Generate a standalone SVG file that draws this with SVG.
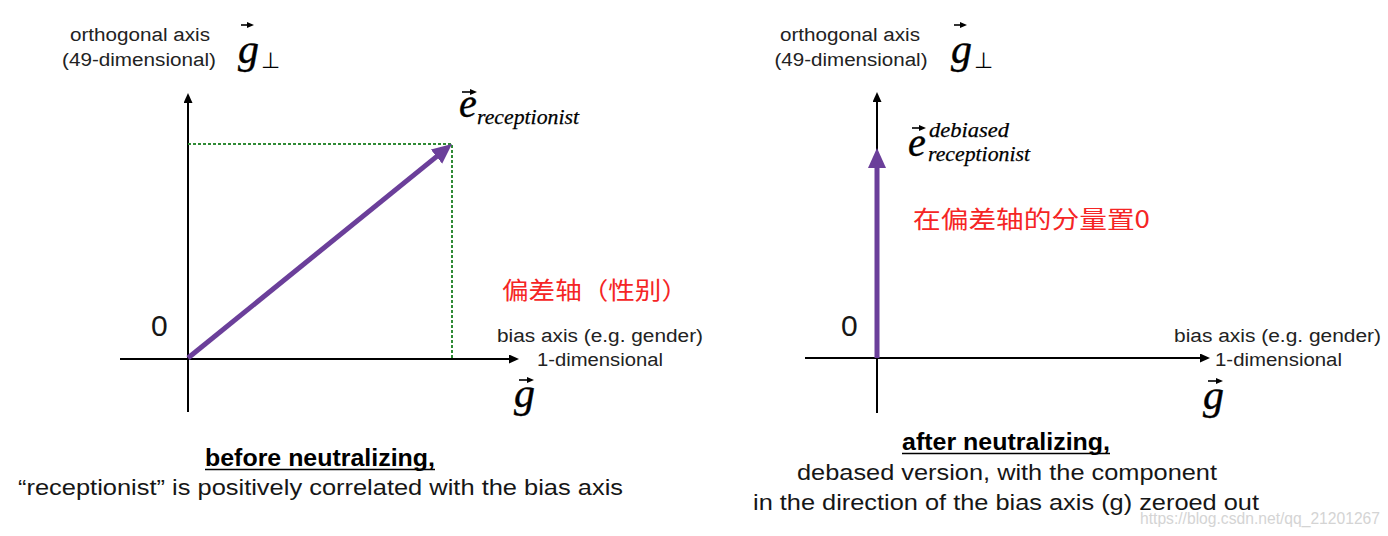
<svg xmlns="http://www.w3.org/2000/svg" width="1388" height="536" viewBox="0 0 1388 536">
<style>
.lbl{font-family:"Liberation Sans",Arial,sans-serif;font-size:18px;fill:#222}
.body{font-family:"Liberation Sans",Arial,sans-serif;font-size:22px;fill:#161616}
.bold{font-family:"Liberation Sans",Arial,sans-serif;font-size:23px;font-weight:bold;fill:#000}
.zero{font-family:"Liberation Sans",Arial,sans-serif;font-size:30px;fill:#161616}
.math{font-family:"Liberation Serif","Times New Roman",serif;font-style:italic;fill:#000;stroke:#000;stroke-width:0.4}
.sub{font-family:"Liberation Serif","Times New Roman",serif;font-style:italic;fill:#000;stroke:#000;stroke-width:0.25}
.perp{font-family:"DejaVu Sans",sans-serif;font-size:22px;fill:#000}
.red{font-family:"Noto Sans CJK SC",sans-serif;font-size:24px;fill:#f52525}
.wm{font-family:"Liberation Sans",Arial,sans-serif;font-size:16px;fill:#d4d4d4}
.axis{stroke:#000;stroke-width:2;fill:none}
.vec{stroke:#6b3f9a;stroke-width:5;fill:none}
.dot{stroke:#2f8a35;stroke-width:2;stroke-dasharray:3 2;fill:none}
.va{stroke:#000;stroke-width:1.6;fill:none}
.ul{stroke:#000;stroke-width:1.6}
</style>
<defs>
<marker id="ah" markerUnits="userSpaceOnUse" markerWidth="12" markerHeight="10" refX="7" refY="4.5" orient="auto">
<path d="M0,0 L10,4.5 L0,9 z" fill="#000"/>
</marker>
<marker id="ph" markerUnits="userSpaceOnUse" markerWidth="22" markerHeight="20" refX="8" refY="9" orient="auto">
<path d="M0,0 L20,9 L0,18 z" fill="#6b3f9a"/>
</marker>
<marker id="sh" markerUnits="userSpaceOnUse" markerWidth="9" markerHeight="7" refX="4" refY="3" orient="auto">
<path d="M0,0 L7,3 L0,6 z" fill="#000"/>
</marker>
</defs>

<g id="connectors">
<line id="left-vertical-axis" class="axis" x1="188" y1="412" x2="188" y2="96" marker-end="url(#ah)"/>
<line id="left-horizontal-axis" class="axis" x1="120" y1="359" x2="516" y2="359" marker-end="url(#ah)"/>
<polyline id="left-projection" class="dot" points="188,144 452,144 452,359"/>
<line id="left-vector" class="vec" x1="188" y1="358" x2="442.7" y2="151.6" marker-end="url(#ph)"/>
<line id="right-vertical-axis" class="axis" x1="877" y1="413" x2="877" y2="95" marker-end="url(#ah)"/>
<line id="right-horizontal-axis" class="axis" x1="805" y1="358" x2="1207" y2="358" marker-end="url(#ah)"/>
<line id="right-vector" class="vec" x1="877" y1="358" x2="877" y2="160" marker-end="url(#ph)"/>
</g>

<g id="left-orthogonal-label">
<text class="lbl" x="140" y="41" text-anchor="middle" textLength="140" lengthAdjust="spacingAndGlyphs">orthogonal axis</text>
<text class="lbl" x="139" y="66" text-anchor="middle" textLength="154" lengthAdjust="spacingAndGlyphs">(49-dimensional)</text>
<line class="va" x1="241" y1="25" x2="251" y2="25" marker-end="url(#sh)"/>
<text class="math" x="238" y="63" font-size="42">g</text>
<text class="perp" x="261" y="68">⊥</text>
</g>

<g id="left-e-receptionist">
<line class="va" x1="462" y1="92" x2="474" y2="92" marker-end="url(#sh)"/>
<text class="math" x="459" y="117" font-size="40">e</text>
<text class="sub" x="477" y="124" font-size="22" textLength="102" lengthAdjust="spacingAndGlyphs">receptionist</text>
</g>

<g id="left-red-label">
<text class="red" x="502" y="299" textLength="186" lengthAdjust="spacingAndGlyphs">偏差轴（性别）</text>
</g>

<g id="left-bias-label">
<text class="lbl" x="497" y="342" textLength="206" lengthAdjust="spacingAndGlyphs">bias axis (e.g. gender)</text>
<text class="lbl" x="537" y="366" textLength="126" lengthAdjust="spacingAndGlyphs">1-dimensional</text>
<line class="va" x1="519" y1="380" x2="531" y2="380" marker-end="url(#sh)"/>
<text class="math" x="514" y="407" font-size="42">g</text>
</g>

<g id="left-origin">
<text class="zero" x="151" y="336">0</text>
</g>

<g id="left-caption">
<text class="bold" x="320" y="466" text-anchor="middle" textLength="230" lengthAdjust="spacingAndGlyphs">before neutralizing,</text>
<line class="ul" x1="205" y1="469.5" x2="435" y2="469.5"/>
<text class="body" x="18" y="495" textLength="605" lengthAdjust="spacingAndGlyphs">“receptionist” is positively correlated with the bias axis</text>
</g>

<g id="right-orthogonal-label">
<text class="lbl" x="850" y="41" text-anchor="middle" textLength="140" lengthAdjust="spacingAndGlyphs">orthogonal axis</text>
<text class="lbl" x="851" y="66" text-anchor="middle" textLength="153" lengthAdjust="spacingAndGlyphs">(49-dimensional)</text>
<line class="va" x1="954" y1="25" x2="964" y2="25" marker-end="url(#sh)"/>
<text class="math" x="951" y="63" font-size="42">g</text>
<text class="perp" x="974" y="68">⊥</text>
</g>

<g id="right-e-debiased">
<line class="va" x1="912" y1="128" x2="923" y2="128" marker-end="url(#sh)"/>
<text class="math" x="908" y="156" font-size="40">e</text>
<text class="sub" x="929" y="137" font-size="22" textLength="80" lengthAdjust="spacingAndGlyphs">debiased</text>
<text class="sub" x="928" y="161" font-size="22" textLength="102" lengthAdjust="spacingAndGlyphs">receptionist</text>
</g>

<g id="right-red-label">
<text class="red" x="913" y="228" textLength="237" lengthAdjust="spacingAndGlyphs">在偏差轴的分量置0</text>
</g>

<g id="right-bias-label">
<text class="lbl" x="1174" y="342" textLength="207" lengthAdjust="spacingAndGlyphs">bias axis (e.g. gender)</text>
<text class="lbl" x="1215" y="366" textLength="127" lengthAdjust="spacingAndGlyphs">1-dimensional</text>
<line class="va" x1="1208" y1="381" x2="1220" y2="381" marker-end="url(#sh)"/>
<text class="math" x="1203" y="409" font-size="42">g</text>
</g>

<g id="right-origin">
<text class="zero" x="841" y="336">0</text>
</g>

<g id="right-caption">
<text class="bold" x="1006" y="450" text-anchor="middle" textLength="208" lengthAdjust="spacingAndGlyphs">after neutralizing,</text>
<line class="ul" x1="902" y1="453.5" x2="1110" y2="453.5"/>
<text class="body" x="1007" y="480" text-anchor="middle" textLength="420" lengthAdjust="spacingAndGlyphs">debased version, with the component</text>
<text class="body" x="753" y="510" textLength="506" lengthAdjust="spacingAndGlyphs">in the direction of the bias axis (g) zeroed out</text>
</g>

<text class="wm" x="1140" y="524" textLength="240" lengthAdjust="spacingAndGlyphs">https://blog.csdn.net/qq_21201267</text>
</svg>
